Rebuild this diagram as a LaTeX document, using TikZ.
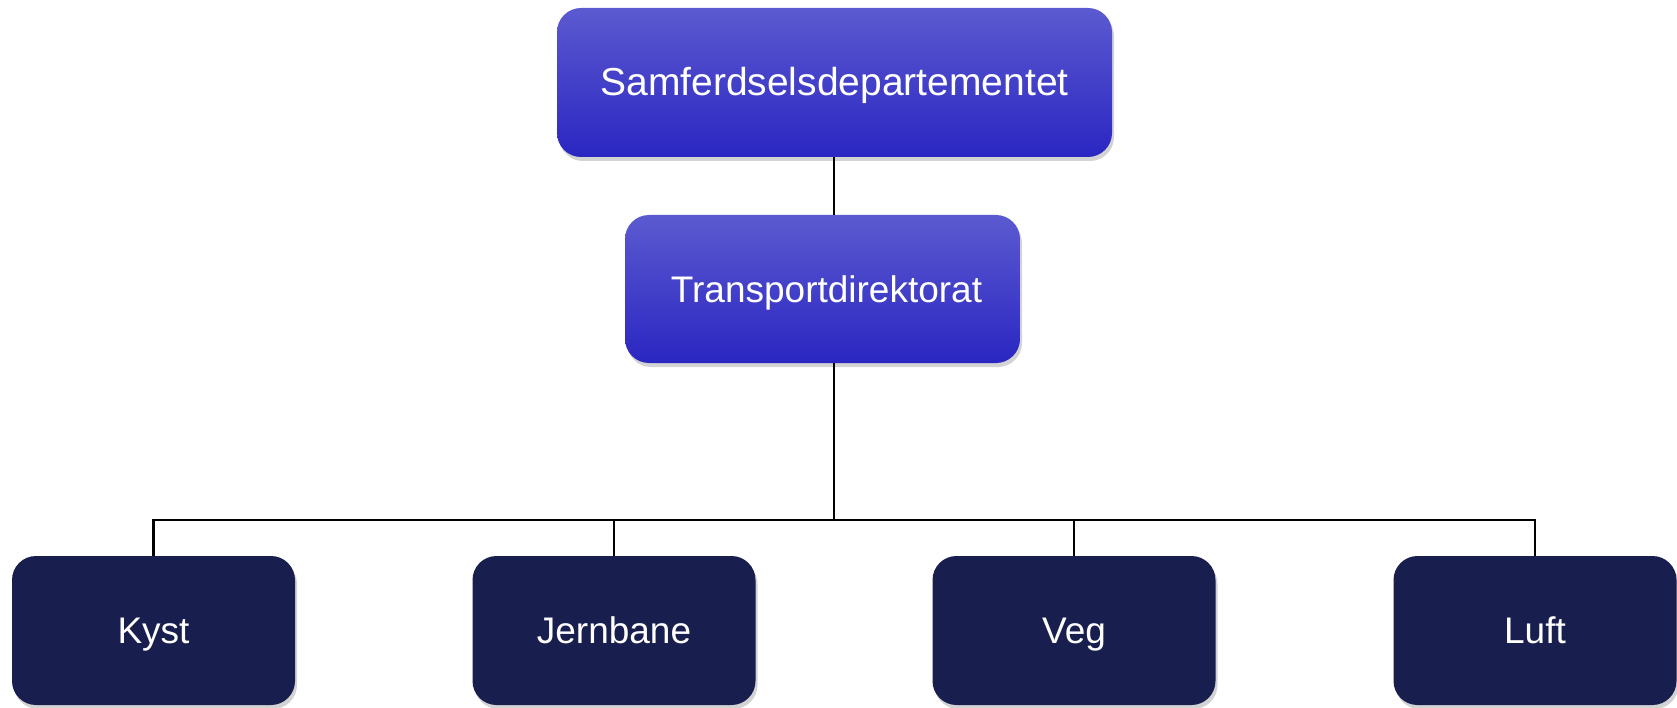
\documentclass[tikz,border=0pt]{standalone}
\usepackage{fontspec}
\setmainfont{Liberation Sans}
\usetikzlibrary{shadows}

\definecolor{boxtop}{RGB}{92,90,208}
\definecolor{boxbot}{RGB}{42,38,194}
\definecolor{unitnavy}{RGB}{24,30,78}

\tikzset{
    topbox/.style={rounded corners=24pt, top color=boxtop, bottom color=boxbot,
        text=white, align=center, inner sep=0pt, text height=27pt, text depth=0pt,
        drop shadow={shadow xshift=2pt, shadow yshift=-4pt, opacity=0.35}},
    unitbox/.style={rounded corners=24pt, fill=unitnavy, text=white,
        minimum width=283pt, minimum height=149pt, inner sep=0pt,
        text height=26.5pt, text depth=0pt,
        font=\fontsize{37}{44}\selectfont,
        drop shadow={shadow xshift=2pt, shadow yshift=-4pt, opacity=0.35}},
    link/.style={line width=2.6pt, black}
}

\begin{document}
\begin{tikzpicture}[x=1pt, y=-1pt]

    \useasboundingbox (0,0) rectangle (1677,708);

    % Ministry and directorate
    \node[topbox, minimum width=555pt, minimum height=149pt,
          font=\fontsize{39}{46}\selectfont] (dep) at (834.5,82.5) {Samferdselsdepartementet};
    \node[topbox, minimum width=395pt, minimum height=148pt,
          font=\fontsize{37}{44}\selectfont] (dir) at (822.5,289) {\hspace{8pt}Transportdirektorat};

    % Bus line
    \coordinate (bus) at (834,520);

    % Units below the directorate
    \foreach \name/\x/\label in {kyst/153.5/Kyst, jern/614/Jernbane, veg/1074/Veg, luft/1535/Luft}
    {
        \node[unitbox] (\name) at (\x,630.5) {\label};
    }

    % Connectors
    \draw[link] (dep.south -| bus) -- (dir.north -| bus);
    \draw[link] (dir.south -| bus) -- (bus);
    \draw[link] (kyst.north) -- (kyst.north |- bus) -- (luft.north |- bus) -- (luft.north);
    \foreach \name in {jern, veg}
        \draw[link] (\name.north) -- (\name.north |- bus);

\end{tikzpicture}
\end{document}
